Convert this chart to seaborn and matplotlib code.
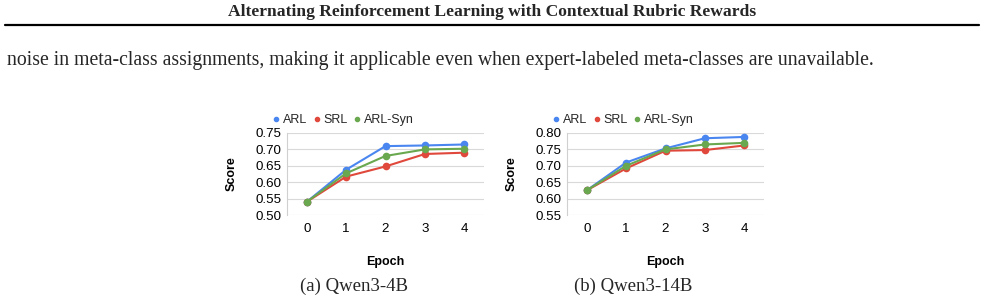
import numpy as np
import pandas as pd
import matplotlib
matplotlib.use("Agg")
import matplotlib.pyplot as plt
import seaborn as sns

epochs = [0, 1, 2, 3, 4]
methods = ["ARL", "SRL", "ARL-Syn"]
colors = {"ARL": "#4a86f0", "SRL": "#e0483c", "ARL-Syn": "#6aa84f"}

qwen4b_arl = [0.540, 0.638, 0.710, 0.712, 0.715]
qwen4b_srl = [0.540, 0.617, 0.648, 0.686, 0.690]
qwen4b_syn = [0.540, 0.627, 0.680, 0.700, 0.702]

qwen14b_arl = [0.625, 0.710, 0.753, 0.784, 0.788]
qwen14b_srl = [0.625, 0.692, 0.746, 0.748, 0.762]
qwen14b_syn = [0.625, 0.700, 0.750, 0.765, 0.770]

header = "Alternating Reinforcement Learning with Contextual Rubric Rewards"
body = ("noise in meta-class assignments, making it applicable even when "
        "expert-labeled meta-classes are unavailable.")
captions = ["(a) Qwen3-4B", "(b) Qwen3-14B"]


def make_df(arl, srl, syn):
    rows = []
    for name, vals in zip(methods, [arl, srl, syn]):
        for e, v in zip(epochs, vals):
            rows.append({"Epoch": e, "Score": v, "Method": name})
    return pd.DataFrame(rows)


sns.set_style("white")
plt.rcParams["font.family"] = ["Liberation Sans", "DejaVu Sans"]

fig = plt.figure(figsize=(9.85, 3.02), dpi=100)
W, H = 985, 302

# page header and text
fig.text(0.5, 1 - 12 / H, header, ha="center", va="center", fontsize=12.6,
         fontweight="bold", family="Liberation Serif")
fig.add_artist(plt.Line2D([5 / W, 979 / W], [1 - 25 / H] * 2, color="black", lw=1.6))
fig.text(7 / W, 1 - 60 / H, body, ha="left", va="center", fontsize=14.2,
         family="Liberation Serif")

panels = [
    (make_df(qwen4b_arl, qwen4b_srl, qwen4b_syn), 287, (0.50, 0.75), 354),
    (make_df(qwen14b_arl, qwen14b_srl, qwen14b_syn), 567, (0.55, 0.80), 633),
]

for (df, left, ylim, cap_x), cap in zip(panels, captions):
    ax = fig.add_axes([left / W, 1 - 215 / H, 197 / W, 82 / H])
    sns.lineplot(data=df, x="Epoch", y="Score", hue="Method", palette=colors,
                 marker="o", markersize=5.5, markeredgewidth=0, linewidth=1.5,
                 ax=ax, legend=False)
    ax.set_xlim(-0.5, 4.5)
    ax.set_ylim(*ylim)
    ax.set_yticks(np.arange(ylim[0], ylim[1] + 0.001, 0.05))
    ax.set_yticklabels([f"{t:.2f}" for t in ax.get_yticks()])
    ax.set_xticks(epochs)
    ax.yaxis.grid(True, color="#d9d9d9", lw=0.8)
    ax.set_axisbelow(True)
    for s in ["top", "right", "bottom"]:
        ax.spines[s].set_visible(False)
    ax.spines["left"].set_color("#d0d0d0")
    ax.spines["left"].set_linewidth(0.8)
    ax.tick_params(axis="both", length=0, labelsize=9.6, pad=4, labelcolor="black")
    ax.tick_params(axis="x", pad=6)
    ax.set_xlabel("Epoch", fontsize=9, fontweight="bold", labelpad=15, color="black")
    ax.set_ylabel("Score", fontsize=9, fontweight="bold", labelpad=13, color="black")

    handles = [plt.Line2D([], [], marker="o", ls="", color=colors[m], markersize=3)
               for m in methods]
    ax.legend(handles, methods, loc="lower left", bbox_to_anchor=(-0.12, 1.0),
              ncol=3, frameon=False, fontsize=9, handletextpad=0.0,
              columnspacing=0.3, borderaxespad=0.15, handlelength=1.0)

    fig.text(cap_x / W, 1 - 286 / H, cap, ha="center", va="center", fontsize=13.5,
             family="Liberation Serif")

fig.savefig("out.png", dpi=100)
